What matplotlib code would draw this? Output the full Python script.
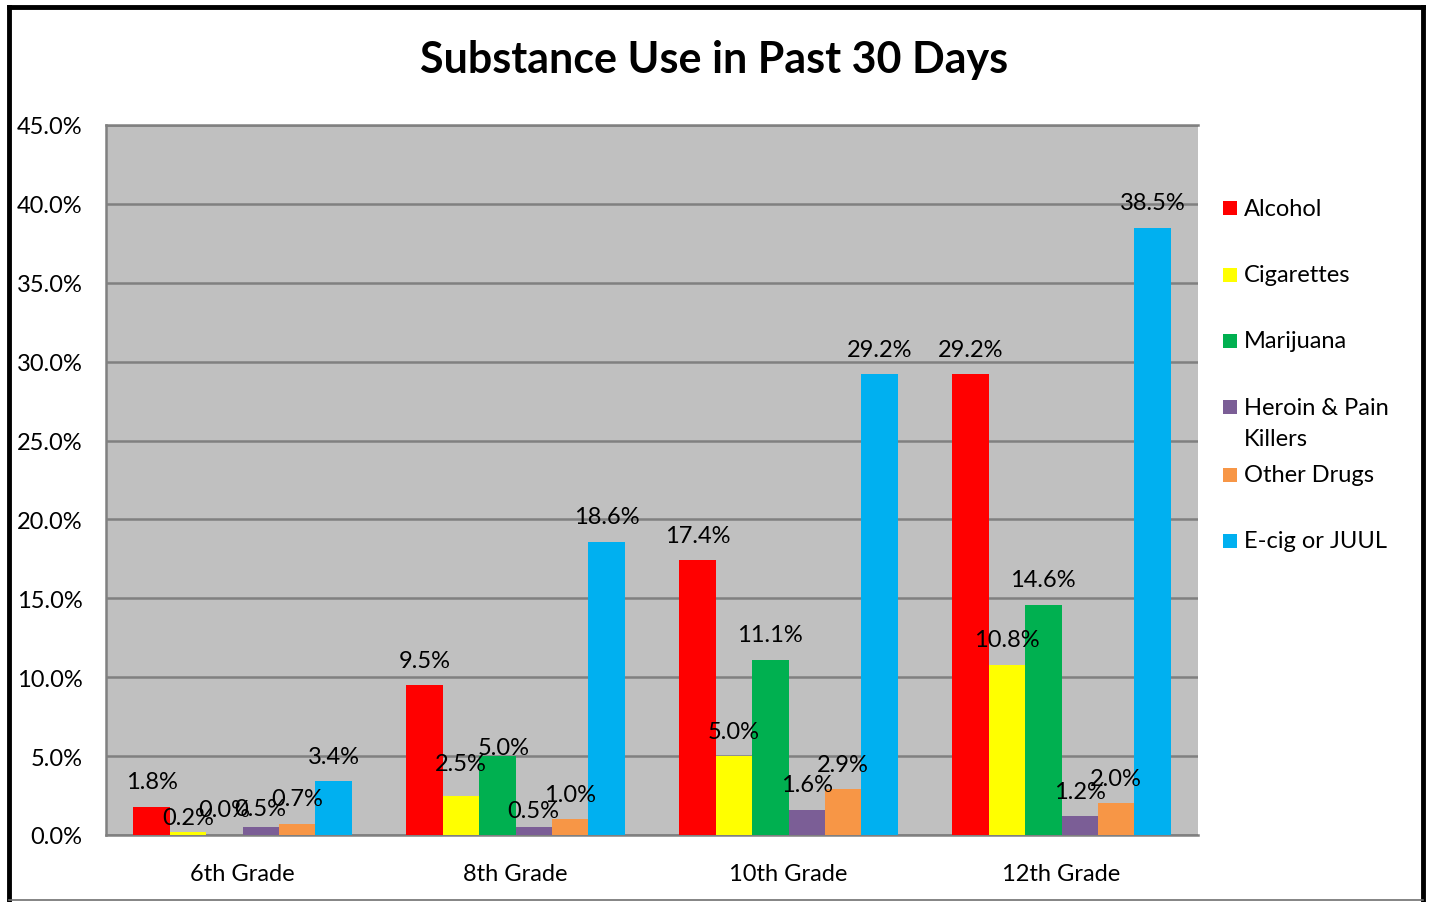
import matplotlib
matplotlib.use("Agg")
import matplotlib.pyplot as plt
import numpy as np
from matplotlib.patches import Rectangle
from matplotlib.lines import Line2D

plt.rcParams['font.family'] = ['Lato', 'DejaVu Sans']

grades = ["6th Grade", "8th Grade", "10th Grade", "12th Grade"]
series = ["Alcohol", "Cigarettes", "Marijuana", "Heroin & Pain\nKillers", "Other Drugs", "E-cig or JUUL"]
colors = ["#FF0000", "#FFFF00", "#00B050", "#7B5E96", "#F79646", "#00B0F0"]

alcohol = [1.8, 9.5, 17.4, 29.2]
cigarettes = [0.2, 2.5, 5.0, 10.8]
marijuana = [0.0, 5.0, 11.1, 14.6]
heroin = [0.5, 0.5, 1.6, 1.2]
other_drugs = [0.7, 1.0, 2.9, 2.0]
ecig = [3.4, 18.6, 29.2, 38.5]
values = [alcohol, cigarettes, marijuana, heroin, other_drugs, ecig]

yticks = [0, 5, 10, 15, 20, 25, 30, 35, 40, 45]

# label vertical offsets (pixels above bar top), layout only
label_dy = {(0, 1): 14, (0, 3): 19, (1, 1): 32, (1, 2): 9, (1, 3): 17}
label_dx = {(1, 2): 6}

FS = 17
W, H = 1429, 903
fig = plt.figure(figsize=(W / 100, H / 100), dpi=100)
ax = fig.add_axes([106 / W, 1 - 836 / H, (1198 - 106) / W, (836 - 126) / H])
ax.set_facecolor("#C0C0C0")

n = len(series)
bw = 0.8 / n
x = np.arange(len(grades))
for i, (vals, col) in enumerate(zip(values, colors)):
    pos = x - 0.4 + bw * (i + 0.5)
    ax.bar(pos, vals, width=bw, color=col, zorder=3, linewidth=0)
    for g, (p, v) in enumerate(zip(pos, vals)):
        dy = label_dy.get((g, i), 25)
        dx = label_dx.get((g, i), 0)
        ax.annotate(f"{v:.1f}%", (p, v), xytext=(dx, dy), textcoords="offset pixels",
                    ha="center", va="center", fontsize=FS, zorder=4)

ax.set_xlim(-0.5, len(grades) - 0.5)
ax.set_ylim(0, 45)
ax.set_yticks(yticks)
ax.set_yticklabels([f"{t:.1f}%" for t in yticks], fontsize=FS)
ax.set_xticks(x)
ax.set_xticklabels(grades, fontsize=FS)
ax.tick_params(axis="y", length=0, pad=17)
ax.tick_params(axis="x", length=0, pad=20)
ax.grid(axis="y", color="#808080", linewidth=1.8, zorder=1)
for s in ["left", "bottom", "top", "right"]:
    ax.spines[s].set_color("#808080")
    ax.spines[s].set_linewidth(1.8)
ax.spines["right"].set_visible(False)

fig.text(0.4997, 1 - 60 / H, "Substance Use in Past 30 Days", ha="center", va="center",
         fontsize=31, fontweight="bold")

# legend (marker centre y in pixels; text block centre follows)
leg_y = [209, 276, 342, 408, 476, 542]
for lbl, col, yy in zip(series, colors, leg_y):
    fig.add_artist(Rectangle((1223 / W, 1 - (yy + 7) / H), 14 / W, 14 / H,
                             transform=fig.transFigure, color=col, linewidth=0))
    nlines = lbl.count("\n")
    fig.text(1244 / W, 1 - (yy + 16 * nlines) / H, lbl, ha="left", va="center",
             fontsize=FS, linespacing=1.55)

# outer frame
fig.add_artist(Line2D([9 / W, 9 / W], [0, 1 - 8 / H], color="black", linewidth=3.5, transform=fig.transFigure))
fig.add_artist(Line2D([9 / W, 1423 / W], [1 - 8 / H, 1 - 8 / H], color="black", linewidth=3.5, transform=fig.transFigure))
fig.add_artist(Line2D([1423 / W, 1423 / W], [0, 1 - 8 / H], color="black", linewidth=3.5, transform=fig.transFigure))
fig.add_artist(Line2D([9 / W, 1423 / W], [1 - 901 / H, 1 - 901 / H], color="#707070", linewidth=1.2, transform=fig.transFigure))

fig.savefig("out.png", dpi=100)
